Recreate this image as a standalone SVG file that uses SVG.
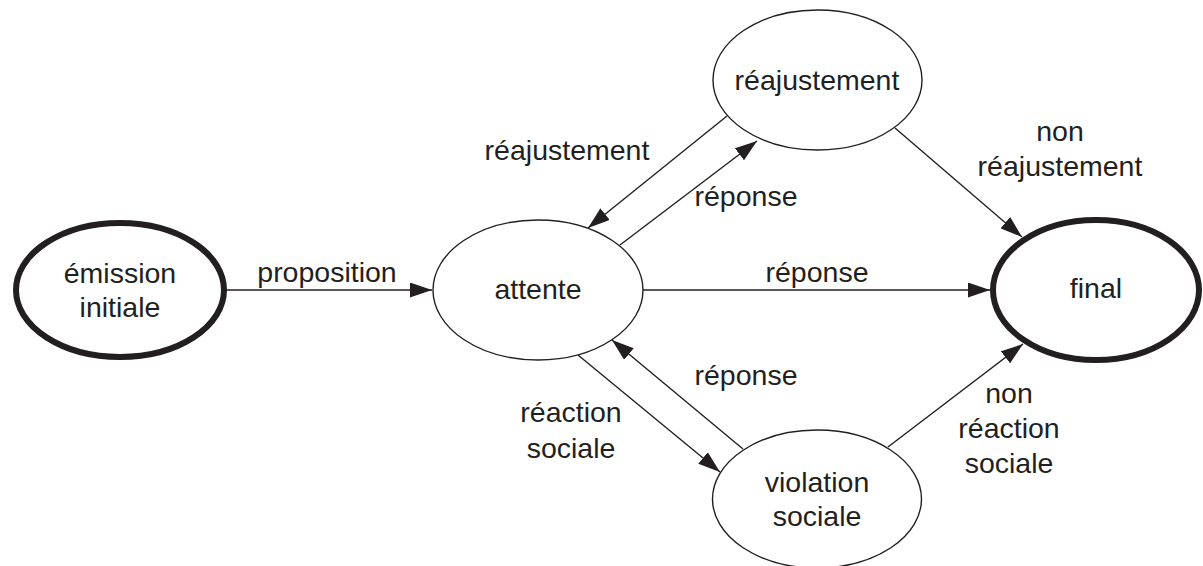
<svg xmlns="http://www.w3.org/2000/svg" width="1203" height="566" viewBox="0 0 1203 566">
<style>
  text { font-family: "Liberation Sans", Arial, Helvetica, sans-serif; font-size: 28.5px; fill: #231f20; text-anchor: middle; }
  .node { fill: #ffffff; stroke: #231f20; stroke-width: 1.4; }
  .term { fill: #ffffff; stroke: #231f20; stroke-width: 6; }
  .edge { fill: none; stroke: #231f20; stroke-width: 1.4; marker-end: url(#arrow); }
</style>
<defs>
  <marker id="arrow" markerUnits="userSpaceOnUse" markerWidth="22" markerHeight="15" refX="22" refY="7.5" orient="auto" viewBox="0 0 22 15">
    <path d="M0,0 L22,7.5 L0,15 z" fill="#231f20"/>
  </marker>
</defs>
<rect x="0" y="0" width="1203" height="566" fill="#ffffff"/>

<g id="connectors">
  <line class="edge" x1="227" y1="290" x2="432" y2="290"/>
  <line class="edge" x1="643" y1="290" x2="990" y2="290"/>
  <line class="edge" x1="727" y1="116" x2="588" y2="228"/>
  <line class="edge" x1="620" y1="245" x2="757" y2="141"/>
  <line class="edge" x1="895" y1="128" x2="1022" y2="237"/>
  <line class="edge" x1="578" y1="355" x2="720" y2="472"/>
  <line class="edge" x1="743" y1="449" x2="612" y2="340"/>
  <line class="edge" x1="888" y1="447" x2="1023" y2="344"/>
</g>

<g id="edge-labels">
  <text x="327" y="282">proposition</text>
  <text x="817" y="282">réponse</text>
  <text x="567" y="160">réajustement</text>
  <text x="746" y="206">réponse</text>
  <text x="746" y="385">réponse</text>
  <text x="571" y="422">réaction</text>
  <text x="571" y="458">sociale</text>
  <text x="1060" y="141">non</text>
  <text x="1060" y="176">réajustement</text>
  <text x="1009" y="403">non</text>
  <text x="1009" y="438">réaction</text>
  <text x="1009" y="473">sociale</text>
</g>

<g id="node-emission">
  <ellipse class="term" cx="120" cy="290" rx="104" ry="67"/>
  <text x="120" y="283">émission</text>
  <text x="120" y="317">initiale</text>
</g>

<g id="node-attente">
  <ellipse class="node" cx="538" cy="290" rx="105" ry="70"/>
  <text x="538" y="299">attente</text>
</g>

<g id="node-reajustement">
  <ellipse class="node" cx="817.5" cy="80" rx="104.5" ry="70"/>
  <text x="817" y="90">réajustement</text>
</g>

<g id="node-violation">
  <ellipse class="node" cx="817" cy="499" rx="104.5" ry="69"/>
  <text x="817" y="492">violation</text>
  <text x="817" y="526">sociale</text>
</g>

<g id="node-final">
  <ellipse class="term" cx="1096" cy="290" rx="103" ry="70"/>
  <text x="1096" y="298">final</text>
</g>
</svg>
